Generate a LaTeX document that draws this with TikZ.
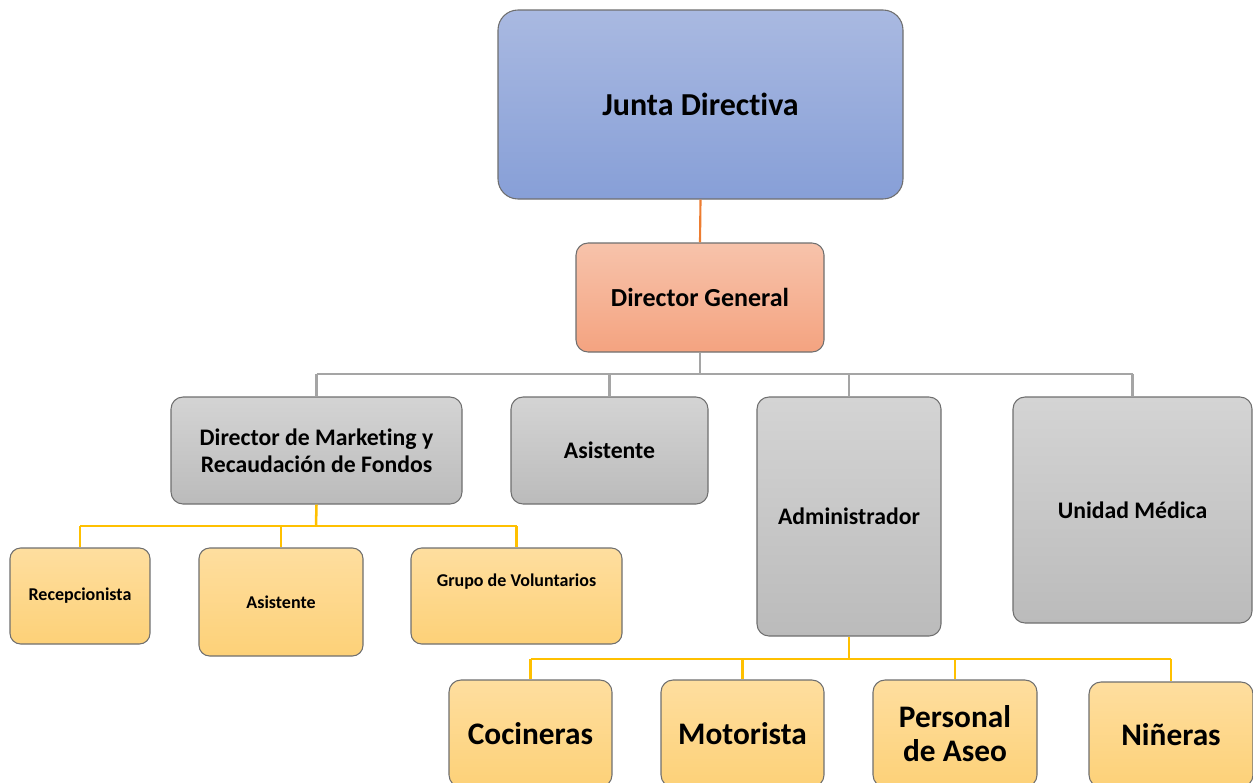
\documentclass[tikz,border=0pt]{standalone}
\usepackage{fontspec}
\setmainfont{Carlito}[Ligatures=NoCommon]
\definecolor{bordc}{HTML}{6F6F6F}
\definecolor{jtop}{HTML}{A9B9E1}
\definecolor{jbot}{HTML}{879FD7}
\definecolor{otop}{HTML}{F7C3AB}
\definecolor{obot}{HTML}{F4A380}
\definecolor{gtop}{HTML}{D4D4D4}
\definecolor{gbot}{HTML}{BBBBBB}
\definecolor{ytop}{HTML}{FEDE9F}
\definecolor{ybot}{HTML}{FDD178}
\definecolor{gline}{HTML}{A5A5A5}
\definecolor{yline}{HTML}{FFC000}
\definecolor{oline}{HTML}{ED7D31}
\tikzset{
  sz/.style 2 args={minimum width=#1*0.75pt, minimum height=#2*0.75pt},
  box/.style={draw=bordc, line width=0.8pt, rounded corners=9pt, inner sep=0pt, align=center, font=\bfseries},
  bluebox/.style={box, top color=jtop, bottom color=jbot, rounded corners=15pt, font=\fontsize{24}{28}\selectfont\bfseries},
  orabox/.style={box, top color=otop, bottom color=obot, font=\fontsize{19.5}{23}\selectfont\bfseries},
  graybox/.style={box, top color=gtop, bottom color=gbot, font=\fontsize{17.8}{20.5}\selectfont\bfseries},
  yelbox/.style={box, top color=ytop, bottom color=ybot, rounded corners=8pt, font=\fontsize{13.5}{16}\selectfont\bfseries},
  bigyel/.style={box, top color=ytop, bottom color=ybot, rounded corners=9pt, font=\fontsize{23.5}{25.5}\selectfont\bfseries},
  gl/.style={draw=gline, line width=1.6pt},
  yl/.style={draw=yline, line width=1.9pt},
  ol/.style={draw=oline, line width=1.6pt},
}
\begin{document}
\begin{tikzpicture}[x=0.75pt, y=-0.75pt]
\useasboundingbox (0,0) rectangle (1253,782);
\clip (0,0) rectangle (1253,782);
% nodes
\node[bluebox, sz={405}{189}] (junta) at (700.5,104.5) {Junta Directiva};
\node[orabox, sz={248}{109}] (dg) at (700,297.5) {Director General};
\node[graybox, sz={291}{107}] (mkt) at (316.5,450.5) {Director de Marketing y\\Recaudación de Fondos};
\node[graybox, sz={197}{107}] (asis) at (609.5,450.5) {Asistente};
\node[graybox, sz={184}{239}] (admin) at (849,516.5) {Administrador};
\node[graybox, sz={239}{226}] (uni) at (1132.5,510) {Unidad Médica};
\node[yelbox, sz={140}{96}] (recep) at (80,596) {Recepcionista};
\node[yelbox, sz={164}{108}] (asis2) at (281,602) {Asistente};
\node[yelbox, sz={211}{96}] (grupo) at (516.5,596) {};
\node[font=\fontsize{13.5}{16}\selectfont\bfseries, inner sep=0pt] (grupotxt) at (516.5,582) {Grupo de Voluntarios};
\node[bigyel, sz={163}{107}] (coc) at (530.5,733.5) {Cocineras};
\node[bigyel, sz={163}{107}] (mot) at (742.5,733.5) {Motorista};
\node[bigyel, sz={164}{107}] (pers) at (955,733.5) {Personal\\de Aseo};
\node[bigyel, sz={164}{105}] (nin) at (1171,734.5) {Niñeras};
% connectors
\draw[ol] (junta.south) -- (dg.north);
\coordinate (bus1) at (700,374);
\draw[gl] (dg.south) -- (bus1);
\draw[gl] (bus1 -| mkt.north) -- (bus1 -| uni.north);
\foreach \n in {mkt,asis,admin,uni} \draw[gl] (bus1 -| \n.north) -- (\n.north);
\coordinate (bus2) at (316,526);
\draw[yl] (mkt.south) -- (bus2);
\draw[yl] (bus2 -| recep.north) -- (bus2 -| grupo.north);
\foreach \n in {recep,asis2,grupo} \draw[yl] (bus2 -| \n.north) -- (\n.north);
\coordinate (bus3) at (849,659);
\draw[yl] (admin.south) -- (bus3);
\draw[yl] (bus3 -| coc.north) -- (bus3 -| nin.north);
\foreach \n in {coc,mot,pers,nin} \draw[yl] (bus3 -| \n.north) -- (\n.north);
\end{tikzpicture}
\end{document}
